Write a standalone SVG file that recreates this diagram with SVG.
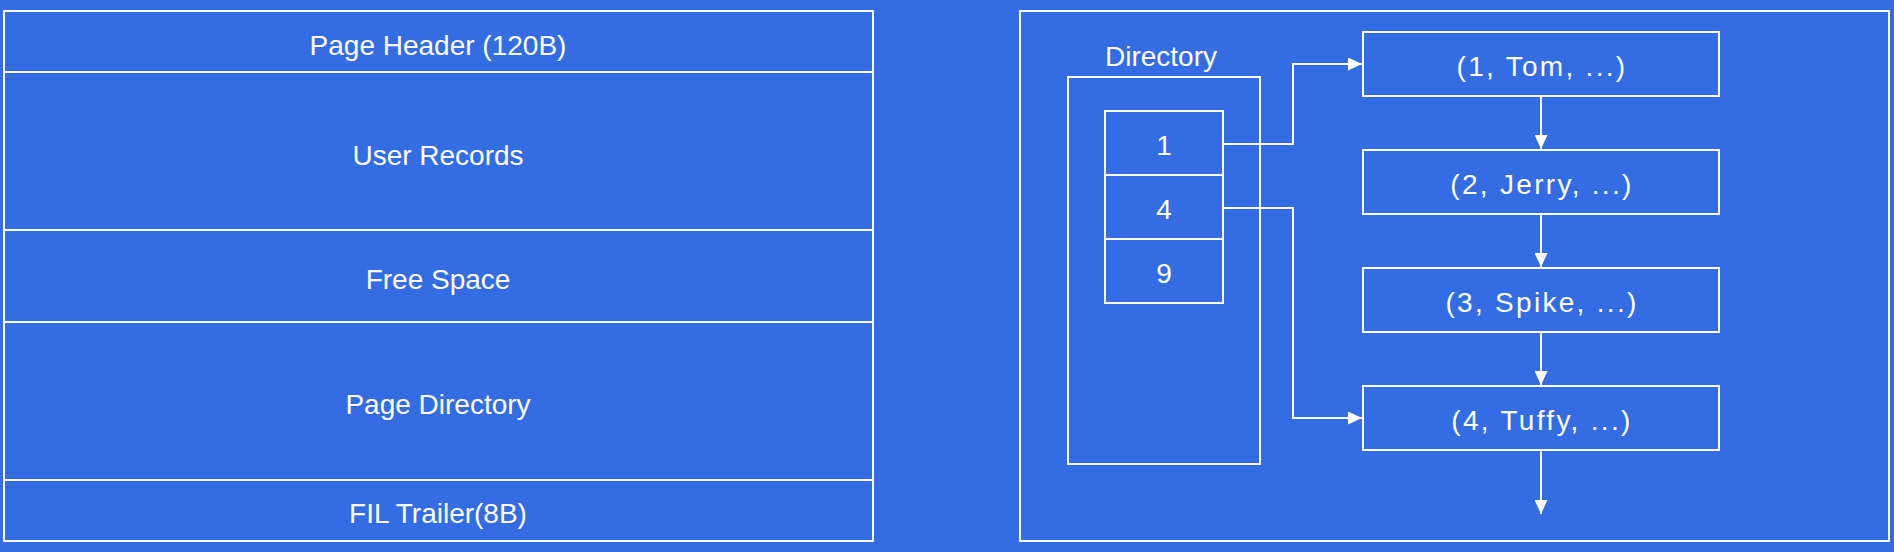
<svg xmlns="http://www.w3.org/2000/svg" width="1894" height="552" viewBox="0 0 1894 552">
<defs>
<style>
.bg{fill:#346ce3}
.box{fill:none;stroke:#ffffff;stroke-width:2}
.line{fill:none;stroke:#ffffff;stroke-width:2}
.t{font-family:"Liberation Sans",Arial,sans-serif;font-size:28px;fill:#ffffff;text-anchor:middle;dominant-baseline:central}
.r{letter-spacing:2.3px}
</style>
<marker id="arr" viewBox="0 0 14 13" refX="14" refY="6.5" markerWidth="14" markerHeight="13" markerUnits="userSpaceOnUse" orient="auto">
<path d="M0,0 L14,6.5 L0,13 Z" fill="#ffffff"/>
</marker>
</defs>
<rect class="bg" x="0" y="0" width="1894" height="552"/>

<g id="page-structure">
<rect class="box" x="4" y="11" width="869" height="530"/>
<g id="page-header"><line class="line" x1="4" y1="72" x2="873" y2="72"/><text class="t" x="438" y="45">Page Header (120B)</text></g>
<g id="user-records"><line class="line" x1="4" y1="230" x2="873" y2="230"/><text class="t" x="438" y="155">User Records</text></g>
<g id="free-space"><line class="line" x1="4" y1="322" x2="873" y2="322"/><text class="t" x="438" y="279">Free Space</text></g>
<g id="page-directory"><line class="line" x1="4" y1="480" x2="873" y2="480"/><text class="t" x="438" y="404">Page Directory</text></g>
<g id="fil-trailer"><text class="t" x="438" y="513">FIL Trailer(8B)</text></g>
</g>

<g id="right-panel">
<rect class="box" x="1020" y="11" width="869" height="530"/>
</g>

<g id="directory">
<text class="t" x="1161" y="56">Directory</text>
<rect class="box" x="1068" y="77" width="192" height="387"/>
</g>
<g id="slot-1"><rect class="box" x="1105" y="111" width="118" height="64"/><text class="t" x="1164" y="145">1</text></g>
<g id="slot-4"><rect class="box" x="1105" y="175" width="118" height="64"/><text class="t" x="1164" y="209">4</text></g>
<g id="slot-9"><rect class="box" x="1105" y="239" width="118" height="64"/><text class="t" x="1164" y="273">9</text></g>

<g id="rec-1"><rect class="box" x="1363" y="32" width="356" height="64"/><text class="t r" x="1542" y="66">(1, Tom, ...)</text></g>
<g id="rec-2"><rect class="box" x="1363" y="150" width="356" height="64"/><text class="t r" x="1542" y="184">(2, Jerry, ...)</text></g>
<g id="rec-3"><rect class="box" x="1363" y="268" width="356" height="64"/><text class="t r" x="1542" y="302">(3, Spike, ...)</text></g>
<g id="rec-4"><rect class="box" x="1363" y="386" width="356" height="64"/><text class="t r" x="1542" y="420">(4, Tuffy, ...)</text></g>

<g id="connectors">
<polyline class="line" points="1223,144 1293,144 1293,64 1362,64" marker-end="url(#arr)"/>
<polyline class="line" points="1223,208 1293,208 1293,418 1362,418" marker-end="url(#arr)"/>
<line class="line" x1="1541" y1="96" x2="1541" y2="149" marker-end="url(#arr)"/>
<line class="line" x1="1541" y1="214" x2="1541" y2="267" marker-end="url(#arr)"/>
<line class="line" x1="1541" y1="332" x2="1541" y2="385" marker-end="url(#arr)"/>
<line class="line" x1="1541" y1="450" x2="1541" y2="514" marker-end="url(#arr)"/>
</g>
</svg>
